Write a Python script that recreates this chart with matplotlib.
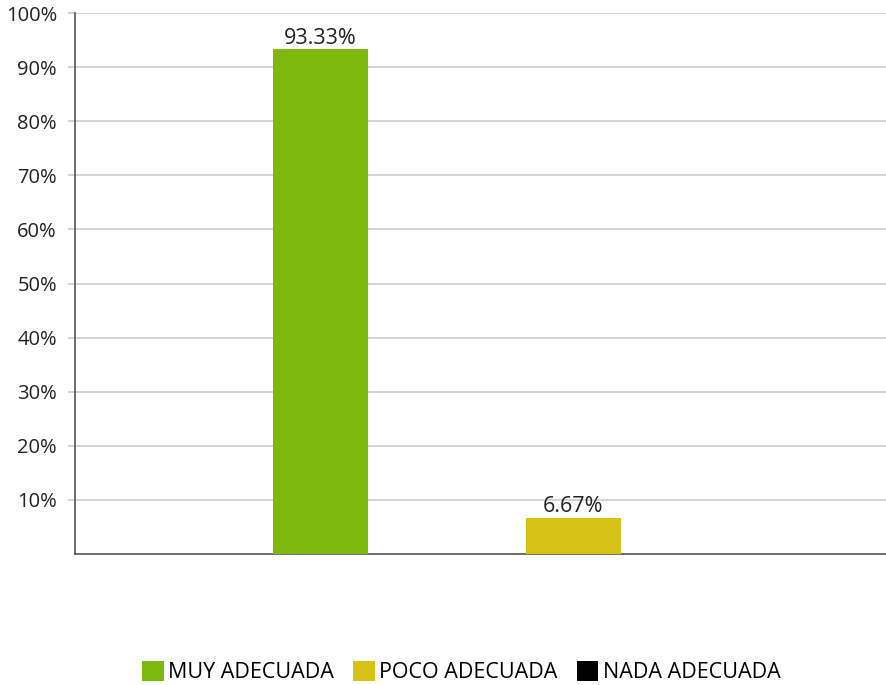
import matplotlib.pyplot as plt
from matplotlib.patches import Patch
from matplotlib.ticker import FuncFormatter

plt.rcParams['font.family'] = ['Open Sans', 'DejaVu Sans']

categorias = ['MUY ADECUADA', 'POCO ADECUADA', 'NADA ADECUADA']
porcentajes = [93.33, 6.67, 0.0]
colores = ['#7db80f', '#d6c214', '#000000']
ticks_y = [10, 20, 30, 40, 50, 60, 70, 80, 90, 100]

fig = plt.figure(figsize=(8.87, 6.85), dpi=100)
ax = fig.add_axes([0.0846, 0.1912, 0.9154, 0.7898])

pos = list(range(len(categorias)))
barras = ax.bar(pos, porcentajes, width=0.375, color=colores, zorder=3)

# etiquetas de valor sobre cada barra (solo las que tienen valor)
for b, v in zip(barras, porcentajes):
    if v > 0:
        ax.text(b.get_x() + b.get_width() / 2, v + 0.1, f'{v:.2f}%',
                ha='center', va='bottom', fontsize=15.5, color='#222222')

ax.set_xlim(-0.97, 2.24)
ax.set_ylim(0, 100)
ax.set_yticks(ticks_y)
ax.yaxis.set_major_formatter(FuncFormatter(lambda v, p: f'{v:.0f}%'))
ax.set_xticks([])

ax.grid(axis='y', color='#cccccc', linewidth=1.2, zorder=0)
ax.tick_params(axis='y', length=5, width=1.2, color='#cccccc',
               labelsize=14.5, labelcolor='#222222', pad=8)

for s in ['top', 'right']:
    ax.spines[s].set_visible(False)
for s in ['left', 'bottom']:
    ax.spines[s].set_color('#555555')
    ax.spines[s].set_linewidth(1.2)

handles = [Patch(facecolor=c, label=n) for c, n in zip(colores, categorias)]
fig.legend(handles=handles, loc='center', bbox_to_anchor=(0.52, 0.019),
           ncol=3, frameon=False, fontsize=15.5, handlelength=1.0,
           handleheight=1.1, handletextpad=0.2, columnspacing=0.9)

fig.savefig('out.png', dpi=100)
